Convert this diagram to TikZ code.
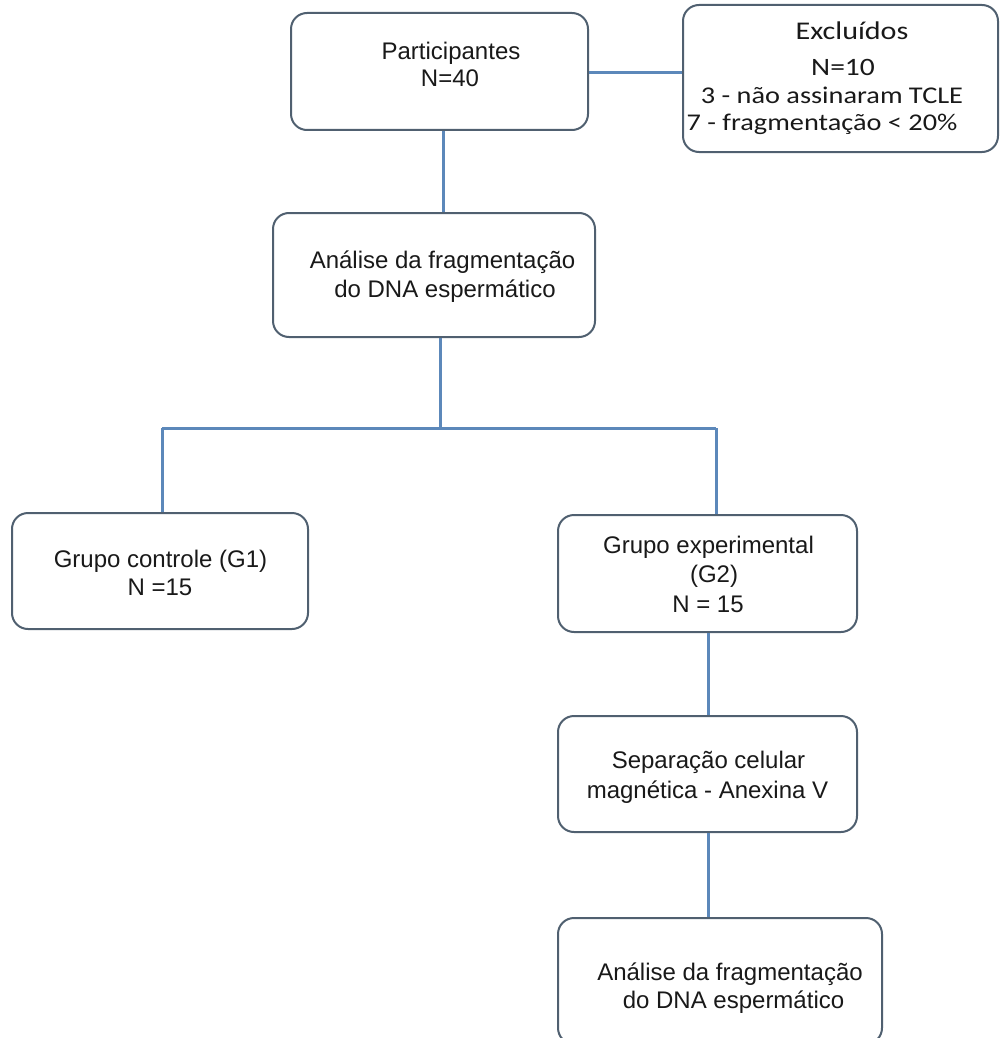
\documentclass[tikz,border=0pt]{standalone}
\usepackage{fontspec}
\setmainfont{Liberation Sans}
\newfontfamily\calib[FakeStretch=1.18]{Carlito}
\begin{document}
\begin{tikzpicture}[x=1pt,y=-1pt,
  box/.style={draw=boxline, line width=2pt, rounded corners=16pt, fill=white, inner sep=0pt},
  conn/.style={draw=connline, line width=3pt},
  txt/.style={anchor=base, inner sep=0pt, font=\fontsize{24}{27}\selectfont, text=black!90},
  ctxt/.style={anchor=base, inner sep=0pt, font=\calib\fontsize{24}{28}\selectfont, text=black!90}]
\definecolor{boxline}{RGB}{80,96,112}
\definecolor{connline}{RGB}{92,136,186}
\useasboundingbox (0,0) rectangle (999,1038);
\clip (0,0) rectangle (999,1038);
\coordinate (J) at (440,428);
\coordinate (L) at (162,428);
\coordinate (R) at (716,428);
% boxes
\node[box, minimum width=297pt, minimum height=117pt] (P) at (439.5,71.5) {};
\node[box, minimum width=315pt, minimum height=147pt] (E) at (840.5,78.5) {};
\node[box, minimum width=322pt, minimum height=124pt] (A1) at (434,275) {};
\node[box, minimum width=296pt, minimum height=116pt] (G1) at (160,571) {};
\node[box, minimum width=299pt, minimum height=117pt] (G2) at (707.5,573.5) {};
\node[box, minimum width=299pt, minimum height=116pt] (S) at (707.5,774) {};
\node[box, minimum width=324pt, minimum height=126pt] (A2) at (720,981) {};
% connectors
\draw[conn] ([xshift=3.5pt]P.south) -- ([xshift=9pt]A1.north);
\draw[conn] (P.east |- 0,73) -- (E.west |- 0,73);
\draw[conn] ([xshift=6pt]A1.south) -- (J);
\draw[conn] (L) -- (R);
\draw[conn] (L) -- ([xshift=2pt]G1.north);
\draw[conn] (R) -- ([xshift=8.5pt]G2.north);
\draw[conn] ([xshift=0.5pt]G2.south) -- ([xshift=0.5pt]S.north);
\draw[conn] ([xshift=0.5pt]S.south) -- ([xshift=-12pt]A2.north);
% texts
\node[txt] (P1) at (451,60) {Participantes};
\node[txt] (P2) at (450,87) {N=40};
\node[ctxt, font=\calib\fontsize{25.5}{28}\selectfont] (E1) at (852,40) {Excluídos};
\node[ctxt, font=\calib\fontsize{25}{28}\selectfont] (E2) at (843,76) {N=10};
\node[ctxt] (E3) at (832,103) {3 - não assinaram TCLE};
\node[ctxt] (E4) at (822,131) {7 - fragmentação < 20\%};
\node[txt] (A11) at (442.5,268) {Análise da fragmentação};
\node[txt] (A12) at (445,297) {do DNA espermático};
\node[txt] (G11) at (160.5,567) {Grupo controle (G1)};
\node[txt] (G12) at (160,595) {N =15};
\node[txt] (G21) at (708.5,553) {Grupo experimental};
\node[txt] (G22) at (714,582) {(G2)};
\node[txt] (G23) at (708,612) {N = 15};
\node[txt] (S1) at (708.5,768) {Separação celular};
\node[txt] (S2) at (707.5,798) {magnética - Anexina V};
\node[txt] (A21) at (730,980) {Análise da fragmentação};
\node[txt] (A22) at (733.5,1008) {do DNA espermático};
\end{tikzpicture}
\end{document}
